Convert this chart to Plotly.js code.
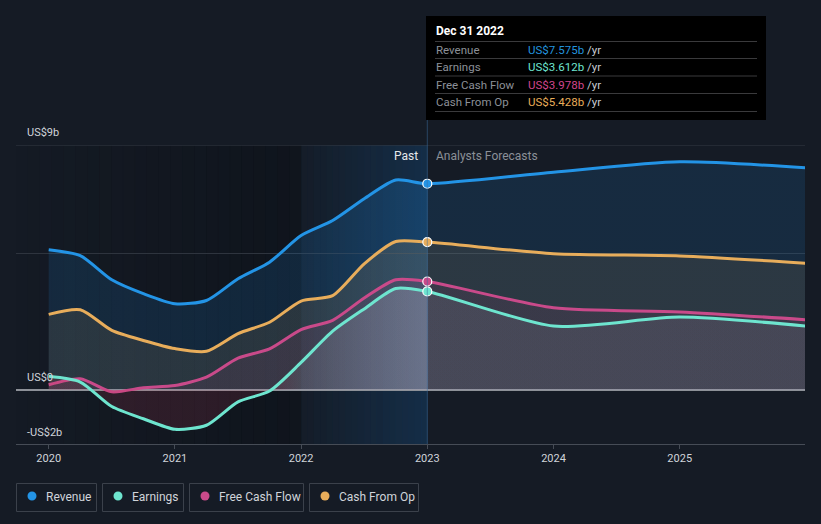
<!DOCTYPE html>
<html>
<head>
<meta charset="utf-8">
<script src="https://cdn.plot.ly/plotly-3.0.1.min.js"></script>
<style>
html,body{margin:0;padding:0;background:#151b25;}
#chart{width:821px;height:524px;}
</style>
</head>
<body>
<div id="chart"></div>
<script>
// ---- data (US$ billions) ----
var dates = [2020.0, 2020.25, 2020.5, 2020.75, 2021.0, 2021.25, 2021.5, 2021.75, 2022.0, 2022.25, 2022.5, 2022.75, 2023.0, 2024.0, 2025.0, 2026.0];
var revenue = [5.15, 4.93, 4.04, 3.53, 3.16, 3.28, 4.08, 4.69, 5.67, 6.22, 7.02, 7.71, 7.575, 8.0, 8.38, 8.16];
var earnings = [0.49, 0.28, -0.62, -1.07, -1.46, -1.31, -0.45, -0.05, 1.0, 2.15, 2.97, 3.72, 3.612, 2.34, 2.67, 2.34];
var freeCashFlow = [0.18, 0.40, -0.08, 0.07, 0.15, 0.46, 1.16, 1.5, 2.21, 2.55, 3.37, 4.04, 3.978, 3.01, 2.86, 2.57];
var cashFromOp = [2.77, 2.94, 2.18, 1.81, 1.51, 1.41, 2.06, 2.48, 3.26, 3.46, 4.63, 5.45, 5.428, 5.0, 4.92, 4.65];
var seriesNames = ["Revenue", "Earnings", "Free Cash Flow", "Cash From Op"];
var yearTicks = [2020, 2021, 2022, 2023, 2024, 2025];
var yearLabels = ["2020", "2021", "2022", "2023", "2024", "2025"];
var yTickLabels = ["US$9b", "US$0", "-US$2b"];
var tooltipDate = "Dec 31 2022";
var pastEnd = 2023.0, pastStart = 2022.0;

// ---- styles ----
var colors = {rev: "#2394e6", earn: "#6ee5cf", fcf: "#c94a8a", cfo: "#e8ad5b"};
var txtColors = ["#2394df", "#6ee5d0", "#d0468c", "#e9ae5a"];
var FONT = "Roboto, 'Open Sans', sans-serif";
var L = 16, R = 805, T = 145, B = 444;
function X(px){ return (px - L) / (R - L); }
function Y(py){ return (B - py) / (B - T); }
var xMin = 2020 - (48.7 - L) / 126.2, xMax = 2026 + (R - 805.9) / 126.2;

function hgrad(rgb, aBase, aPeak){
  var s = 2020, e = 2026;
  function p(v){ return (v - s) / (e - s); }
  return {
    type: "horizontal", start: s, stop: e,
    colorscale: [
      [0, "rgba(" + rgb + "," + aBase + ")"],
      [p(2022.0), "rgba(" + rgb + "," + (aBase*1.1).toFixed(3) + ")"],
      [p(2023.0), "rgba(" + rgb + "," + aPeak + ")"],
      [p(2023.01), "rgba(" + rgb + "," + aBase + ")"],
      [1, "rgba(" + rgb + "," + aBase + ")"]
    ]
  };
}
var earnGrad = {
  type: "horizontal", start: 2020, stop: 2026,
  colorscale: [
    [0, "rgba(200,60,90,0.15)"],
    [(2021.8-2020)/6, "rgba(200,60,90,0.15)"],
    [(2022.0-2020)/6, "rgba(190,205,220,0.12)"],
    [(2023.0-2020)/6, "rgba(190,205,220,0.27)"],
    [(2023.01-2020)/6, "rgba(190,205,220,0.10)"],
    [1, "rgba(190,205,220,0.09)"]
  ]
};

function lineTrace(y, color, fillg){
  return {
    x: dates, y: y, type: "scatter", mode: "lines",
    line: {color: color, width: 3, shape: "spline", smoothing: 0.7},
    fill: "tozeroy", fillgradient: fillg, hoverinfo: "skip"
  };
}
var idx = dates.indexOf(pastEnd);
var traces = [
  lineTrace(revenue, colors.rev, hgrad("33,150,243", 0.13, 0.2)),
  lineTrace(cashFromOp, colors.cfo, hgrad("232,173,91", 0.10, 0.15)),
  lineTrace(freeCashFlow, colors.fcf, hgrad("201,74,138", 0.09, 0.14)),
  lineTrace(earnings, colors.earn, earnGrad),
  {
    x: [dates[idx], dates[idx], dates[idx], dates[idx]],
    y: [revenue[idx], cashFromOp[idx], freeCashFlow[idx], earnings[idx]],
    type: "scatter", mode: "markers", hoverinfo: "skip",
    marker: {size: 9, color: [colors.rev, colors.cfo, colors.fcf, colors.earn], line: {color: "#ffffff", width: 1.2}}
  }
];

var shapes = [];
// dark band before 2022
var n = 24;
for (var i = 0; i < n; i++){
  var a = xMin + (pastStart - xMin) * i / n, b = xMin + (pastStart - xMin) * (i + 1) / n;
  shapes.push({type: "rect", xref: "x", yref: "paper", x0: a, x1: b + 0.002, y0: 0, y1: 1, layer: "below", line: {width: 0}, fillcolor: "rgba(5,8,12," + (0.02 + 0.3 * i / (n - 1)).toFixed(3) + ")"});
}
// blue "past" band 2022..2023
var m = 20;
for (var j = 0; j < m; j++){
  var a2 = pastStart + (pastEnd - pastStart) * j / m, b2 = pastStart + (pastEnd - pastStart) * (j + 1) / m;
  shapes.push({type: "rect", xref: "x", yref: "paper", x0: a2, x1: b2 + 0.001, y0: 0, y1: 1, layer: "below", line: {width: 0}, fillcolor: "rgba(20,110,190," + (0.03 + 0.19 * j / (m - 1)).toFixed(3) + ")"});
}
// top gridline at 9b
shapes.push({type: "line", xref: "paper", yref: "y", x0: 0, x1: 1, y0: 9, y1: 9, line: {color: "#353b45", width: 1}});
// vertical line at the last actual
shapes.push({type: "line", xref: "x", yref: "paper", x0: pastEnd, x1: pastEnd, y0: 0, y1: Y(120), line: {color: "rgba(60,110,160,0.5)", width: 1}});
// tooltip box
shapes.push({type: "rect", xref: "paper", yref: "paper", x0: X(426), x1: X(766), y0: Y(120), y1: Y(16), fillcolor: "#000000", line: {width: 0}});
[41.5, 58.5, 76, 93.5, 111.5].forEach(function(py){
  shapes.push({type: "line", xref: "paper", yref: "paper", x0: X(435), x1: X(757), y0: Y(py), y1: Y(py), line: {color: "#3a3a3c", width: 1}});
});
// legend boxes
var legendBoxes = [[16, 97], [102, 184], [189, 304], [309, 419]];
var legendDotColors = [colors.rev, colors.earn, colors.fcf, colors.cfo];
legendBoxes.forEach(function(bx, k){
  shapes.push({type: "rect", xref: "paper", yref: "paper", x0: X(bx[0] + 0.5), x1: X(bx[1] - 0.5), y0: Y(511.5), y1: Y(483.5), line: {color: "#3b414b", width: 1}, fillcolor: "rgba(0,0,0,0)"});
  shapes.push({type: "circle", xref: "paper", yref: "paper", xsizemode: "pixel", ysizemode: "pixel", xanchor: X(bx[0] + 16), yanchor: Y(496), x0: -4.5, x1: 4.5, y0: -4.5, y1: 4.5, fillcolor: legendDotColors[k], line: {width: 0}});
});

var annotations = [];
function ann(text, px, py, opts){
  var o = {text: text, xref: "paper", yref: "paper", x: X(px), y: Y(py), xanchor: "left", yanchor: "middle", showarrow: false,
    font: {family: FONT, size: 11, color: "#d0d4da"}};
  for (var k in opts) o[k] = opts[k];
  annotations.push(o);
}
// y labels
ann(yTickLabels[0], 25, 132, {});
ann(yTickLabels[1], 25, 377, {});
ann(yTickLabels[2], 25, 432, {});
// past / forecasts
ann("Past", 420, 156, {xanchor: "right", font: {family: FONT, size: 12, color: "#e6e8eb"}});
ann("Analysts Forecasts", 434, 156, {font: {family: FONT, size: 12, color: "#8b9098"}});
// tooltip
ann("<b>" + tooltipDate + "</b>", 434, 31, {font: {family: FONT, size: 12, color: "#ffffff"}});
var rowY = [49.5, 67, 84.5, 102];
var rowVals = [revenue[idx], earnings[idx], freeCashFlow[idx], cashFromOp[idx]];
seriesNames.forEach(function(nm, k){
  ann(nm, 434, rowY[k], {font: {family: FONT, size: 11.5, color: "#8c9098"}});
  ann("<span style='color:" + txtColors[k] + "'>US$" + rowVals[k].toFixed(3) + "b</span> /yr", 526, rowY[k], {font: {family: FONT, size: 11.5, color: "#c8ccd2"}});
});
// legend labels
legendBoxes.forEach(function(bx, k){
  ann(seriesNames[k], bx[0] + 28, 496.5, {font: {family: FONT, size: 12, color: "#d0d4da"}});
});

var layout = {
  width: 821, height: 524,
  margin: {l: L, r: 821 - R, t: T, b: 524 - B, pad: 0},
  paper_bgcolor: "#151b25", plot_bgcolor: "#151b25",
  showlegend: false, hovermode: false,
  font: {family: FONT, color: "#d0d4da"},
  xaxis: {
    type: "linear", range: [xMin, xMax], tickvals: yearTicks, ticktext: yearLabels,
    showgrid: false, zeroline: false, showline: true, linecolor: "#464c56", linewidth: 1,
    ticks: "outside", ticklen: 4, tickcolor: "#464c56", tickfont: {family: FONT, size: 11, color: "#d0d4da"},
    fixedrange: true
  },
  yaxis: {
    range: [-2, 9], tickvals: [0, 5, 9], showticklabels: false, showgrid: true, gridcolor: "#2e343e", gridwidth: 1,
    zeroline: true, zerolinecolor: "#8d9198", zerolinewidth: 2, showline: false, ticks: "", fixedrange: true
  },
  shapes: shapes,
  annotations: annotations
};
Plotly.newPlot("chart", traces, layout, {displayModeBar: false, staticPlot: true});
</script>
</body>
</html>
